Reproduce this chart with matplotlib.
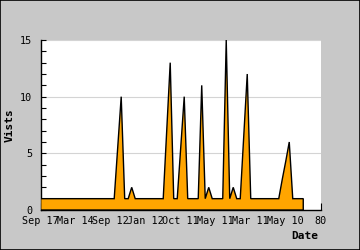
import numpy as np
import matplotlib
matplotlib.use("Agg")
import matplotlib.pyplot as plt
from matplotlib.ticker import MultipleLocator
from matplotlib.patches import Rectangle

# visits per period (index 0..75)
visits = [1] * 21 + [
    1, 5.5, 10, 1,          # 21-24
    1, 2, 1,                # 25-27
    1, 1, 1, 1, 1, 1, 1,    # 28-34
    1, 7, 13, 1,            # 35-38
    1, 5.5, 10, 1,          # 39-42
    1, 1,                   # 43-44
    1, 11, 1, 2, 1,         # 45-49
    1, 1,                   # 50-51
    1, 15, 1, 2, 1,         # 52-56
    1, 6.5, 12, 1,          # 57-60
    1, 1, 1, 1, 1, 1, 1,    # 61-67
    1, 2.7, 4.3, 6, 1,      # 68-72
    1, 1, 1,                # 73-75
]
tick_pos = [0, 10, 20, 30, 40, 50, 60, 70, 80]
tick_labels = ["Sep 17", "Mar 14", "Sep 12", "Jan 12", "Oct 11",
               "May 11", "Mar 11", "May 10", "80"]

x = np.arange(len(visits))
y = np.array(visits, dtype=float)

mono = "DejaVu Sans Mono"
fig = plt.figure(figsize=(3.6, 2.5), dpi=100)
fig.patch.set_facecolor("#c8c8c8")
fig.patches.append(Rectangle((0, 0), 1, 1, transform=fig.transFigure,
                             fill=False, edgecolor="black", lw=1.2))

ax = fig.add_axes([0.113, 0.16, 0.778, 0.68])
ax.set_facecolor("white")

# polygon closed down to zero so the outline has the end edge
px = np.concatenate([[0], x, [x[-1]]])
py = np.concatenate([[0], y, [0]])
ax.fill(px, py, facecolor="#ffa500", edgecolor="black", lw=1.0, zorder=3)

ax.set_xlim(0, 80)
ax.set_ylim(0, 15)
ax.set_yticks([0, 5, 10, 15])
ax.yaxis.set_minor_locator(MultipleLocator(1))
ax.set_xticks(tick_pos)
ax.set_xticklabels(tick_labels)
ax.grid(axis="y", which="major", color="#d4d4d4", lw=0.8, zorder=1)

for s in ["top", "right"]:
    ax.spines[s].set_visible(False)
for s in ["left", "bottom"]:
    ax.spines[s].set_linewidth(1.0)

ax.tick_params(axis="y", which="both", direction="in", length=3.3, width=0.8,
               labelsize=7.3, pad=6)
ax.tick_params(axis="x", direction="in", length=5, width=0.8,
               labelsize=7.3, pad=4)
for lab in ax.get_xticklabels() + ax.get_yticklabels():
    lab.set_family(mono)

ax.set_ylabel("Vists", family=mono, fontweight="bold", fontsize=8)
ax.yaxis.set_label_coords(-0.094, 0.5)
fig.text(0.883, 0.055, "Date", family=mono, fontweight="bold", fontsize=8,
         ha="right", va="center")

fig.savefig("out.png", dpi=100, facecolor=fig.get_facecolor())
